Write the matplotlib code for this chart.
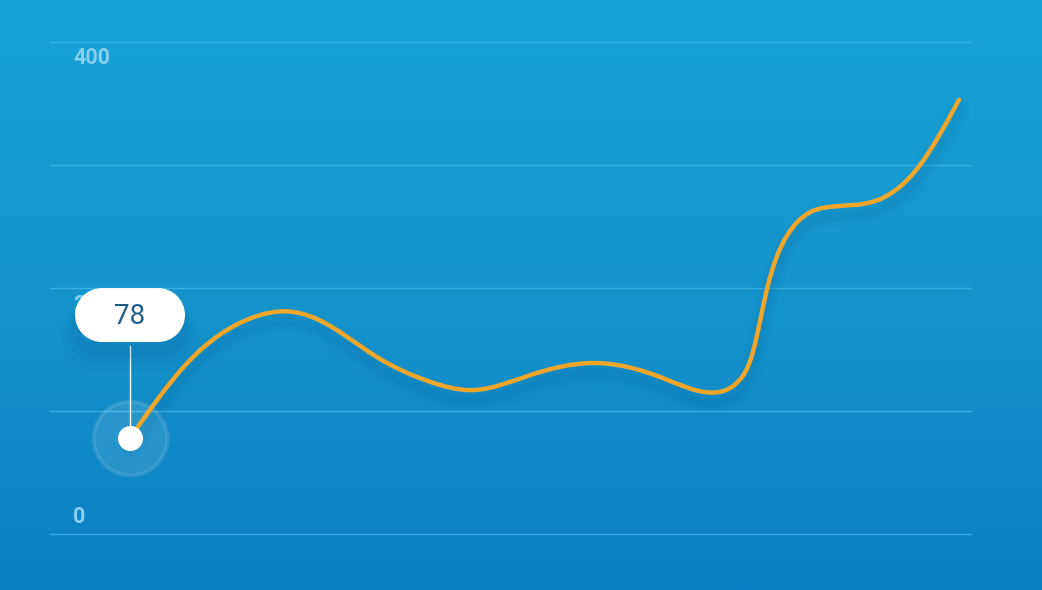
import numpy as np
import matplotlib.pyplot as plt
import matplotlib.colors as mcolors
import matplotlib.transforms as mtrans
from matplotlib.path import Path
from matplotlib.patches import PathPatch

# values (x = percent of the plotted range)
xs = [0, 6.9, 14.8, 18.9, 22.8, 30.0, 36.1, 41.3, 48.2, 55.8, 64.2,
      70.3, 73.5, 75.1, 76.8, 79.2, 84.4, 90.0, 95.3, 100]
vals = [78, 139, 176, 181, 174, 143, 124, 117, 129, 139, 127,
        115, 125, 147, 198, 242, 266, 271, 300, 353]
yticks = [0, 100, 200, 300, 400]
ylabels = ["0", "200", "400"]
tip_value = 78


def spline_path(x, y):
    # natural cubic spline, drawn as bezier segments
    x = np.asarray(x, float)
    y = np.asarray(y, float)
    n = len(x)
    h = np.diff(x)
    A = np.zeros((n, n))
    r = np.zeros(n)
    A[0, 0] = A[-1, -1] = 1
    for i in range(1, n - 1):
        A[i, i - 1] = h[i - 1]
        A[i, i] = 2 * (h[i - 1] + h[i])
        A[i, i + 1] = h[i]
        r[i] = 6 * ((y[i + 1] - y[i]) / h[i] - (y[i] - y[i - 1]) / h[i - 1])
    M = np.linalg.solve(A, r)
    verts = [(x[0], y[0])]
    codes = [Path.MOVETO]
    for i in range(n - 1):
        d = (y[i + 1] - y[i]) / h[i]
        m0 = d - h[i] * (2 * M[i] + M[i + 1]) / 6
        m1 = d + h[i] * (M[i] + 2 * M[i + 1]) / 6
        dx = h[i] / 3
        verts += [(x[i] + dx, y[i] + m0 * dx),
                  (x[i + 1] - dx, y[i + 1] - m1 * dx),
                  (x[i + 1], y[i + 1])]
        codes += [Path.CURVE4] * 3
    return Path(verts, codes)


def pill(cx, cy, w, h):
    r = h / 2
    right = Path.arc(-90, 90)
    left = Path.arc(90, 270)
    v1 = right.vertices * r + [cx + w / 2 - r, cy]
    v2 = left.vertices * r + [cx - w / 2 + r, cy]
    c2 = left.codes.copy()
    c2[0] = Path.LINETO
    verts = np.vstack([v1, v2, v1[:1]])
    codes = np.concatenate([right.codes, c2, [Path.CLOSEPOLY]])
    return Path(verts, codes)


W, H = 1042, 590
fig = plt.figure(figsize=(W / 100, H / 100), dpi=100)

# background gradient
bg = fig.add_axes([0, 0, 1, 1])
grad = mcolors.LinearSegmentedColormap.from_list("bg", ["#0b80c1", "#1594cc", "#18a3d7"])
bg.imshow(np.linspace(0, 1, 256).reshape(-1, 1), aspect="auto", cmap=grad,
          extent=[0, 1, 0, 1], origin="lower")
bg.axis("off")

# plot area: gridlines from x=50 to 972 px, 0 at y=534, 400 at y=42
ax = fig.add_axes([50 / W, 0, 922 / W, 1])
ax.patch.set_alpha(0)
px_x = 829 / 100
px_y = 492 / 400
ax.set_xlim(-80 / px_x, 842 / px_x)
ax.set_ylim(-56 / px_y, 534 / px_y)
for s in ax.spines.values():
    s.set_visible(False)
ax.set_xticks([])
ax.set_yticks([])

for t in yticks:
    ax.axhline(t, color="#45b6e6", lw=1, alpha=0.8, zorder=1)

label_off = {"400": -16, "200": -17, "0": 17}
for lab in ylabels:
    ax.annotate(lab, xy=(0, float(lab)), xycoords=("axes fraction", "data"),
                xytext=(16.5, label_off[lab] * 0.72), textcoords="offset points",
                ha="left", va="center", fontsize=15.5, fontweight="bold",
                family="Roboto", color="#88cef1", zorder=2)

# line with soft shadow
path = spline_path(xs, vals)
for lw, a in [(16, 0.04), (11, 0.05), (6, 0.07)]:
    shadow = PathPatch(path, facecolor="none", edgecolor="#0a5f98", lw=lw,
                       alpha=a, zorder=3, capstyle="round")
    shadow.set_transform(ax.transData + mtrans.Affine2D().translate(0, -10))
    ax.add_patch(shadow)
ax.add_patch(PathPatch(path, facecolor="none", edgecolor="#f0a62a", lw=3.2,
                       zorder=5, capstyle="round"))

# highlighted first point with halo
x0, y0 = xs[0], vals[0]
ax.scatter([x0], [y0], s=(2 * 37 * 0.72) ** 2, color="white", alpha=0.1,
           edgecolors=(1, 1, 1, 0.15), linewidths=3, zorder=4)
ax.scatter([x0], [y0], s=(2 * 12.5 * 0.72) ** 2, color="white", zorder=7,
           linewidths=0)

# tooltip (placed in pixels relative to the point)
px0, py0 = ax.transData.transform((x0, y0))
ident = mtrans.IdentityTransform()
bw, bh = 110, 54
cx, cy = px0, py0 + 123
ax.plot([px0, px0], [py0 + 12, cy - bh / 2 - 4], color="white", lw=1,
        transform=ident, zorder=6)
for grow, drop, a in [(14, 22, 0.05), (8, 18, 0.07), (3, 14, 0.09)]:
    ax.add_patch(PathPatch(pill(cx, cy - drop, bw + 2 * grow, bh + grow),
                           transform=ident, facecolor="#075a93",
                           edgecolor="none", alpha=a, zorder=6))
ax.add_patch(PathPatch(pill(cx, cy, bw, bh), transform=ident,
                       facecolor="white", edgecolor="none", zorder=8))
ax.text(cx, cy - 1, str(tip_value), ha="center", va="center", fontsize=20,
        family="Roboto", color="#1d5c88", transform=ident, zorder=9)

fig.savefig("out.png", dpi=100)
